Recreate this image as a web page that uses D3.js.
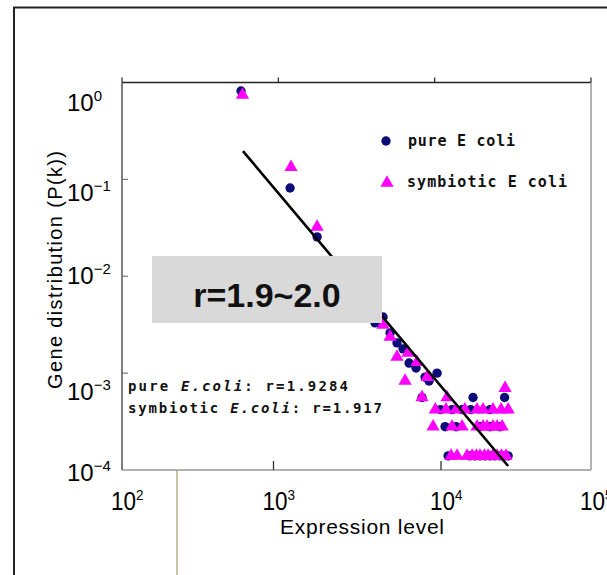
<!DOCTYPE html>
<html><head><meta charset="utf-8">
<script src="https://cdn.jsdelivr.net/npm/d3@7"></script>
<style>body{margin:0;background:#fff;} svg{display:block}</style>
</head><body>
<svg id="chart" width="607" height="575"></svg>
<script>
// ---------- data ----------
const xTickExps = [2, 3, 4, 5];
const yTickExps = [0, -1, -2, -3, -4];

const pureX = [577, 1189, 1770, 2480, 3097, 3590,
  4159, 4677, 5186, 5744, 6280, 6860, 7600, 8680, 9210, 10360,
  8300, 17600, 28000,
  10900, 12900, 14950, 17000, 22600,
  11660, 13710, 19500, 22620, 26200,
  12190, 16840, 18130, 19500, 21000, 22620, 24300, 26200, 28000, 29500];
const pureY = [0.817, 0.0815, 0.0255, 0.0103, 0.0064, 0.0047,
  3.30e-3, 3.80e-3, 2.60e-3, 2.05e-3, 1.78e-3, 1.27e-3, 1.13e-3, 9.1e-4, 8.3e-4, 1.0e-3,
  5.6e-4, 5.6e-4, 5.6e-4,
  4.2e-4, 4.2e-4, 4.2e-4, 4.2e-4, 4.2e-4,
  2.8e-4, 2.8e-4, 2.8e-4, 2.8e-4, 2.8e-4,
  1.4e-4, 1.4e-4, 1.4e-4, 1.4e-4, 1.4e-4, 1.4e-4, 1.4e-4, 1.4e-4, 1.4e-4, 1.4e-4];

const symX = [590, 1205, 1770, 2550, 3175, 3750,
  4677, 5186, 5744, 6761, 7710, 6470, 8940,
  28200,
  8300, 12000,
  10100, 11800, 13700, 15600, 18670, 20400, 23600, 26600, 29500,
  9770, 12920, 14970, 18670, 20400, 21640, 23600, 25070, 27000,
  12740, 13910, 16110, 17350, 18500, 19500, 20800, 21970, 23500, 25070, 26800, 28630];
const symY = [0.743, 0.134, 0.0323, 0.0122, 0.0072, 0.0051,
  3.14e-3, 2.36e-3, 1.47e-3, 1.62e-3, 1.30e-3, 8.3e-4, 9.1e-4,
  7.0e-4,
  5.6e-4, 5.6e-4,
  4.2e-4, 4.2e-4, 4.2e-4, 4.2e-4, 4.2e-4, 4.2e-4, 4.2e-4, 4.2e-4, 4.2e-4,
  2.8e-4, 2.8e-4, 2.8e-4, 2.8e-4, 2.8e-4, 2.8e-4, 2.8e-4, 2.8e-4, 2.8e-4,
  1.4e-4, 1.4e-4, 1.4e-4, 1.4e-4, 1.4e-4, 1.4e-4, 1.4e-4, 1.4e-4, 1.4e-4, 1.4e-4, 1.4e-4, 1.4e-4];

const fitX = [594, 29500];
const fitY = [0.196, 1.10e-4];

const legendLabels = ["pure E\u2009coli", "symbiotic E\u2009coli"];
const noteParts = [["pure ", "E.coli", ": r=1.9284"], ["symbiotic ", "E.coli", ": r=1.917"]];
const boxLabel = "r=1.9~2.0";
const xTitle = "Expression level";
const yTitle = "Gene distribution (P(k))";

// ---------- layout ----------
const svg = d3.select("#chart");
const L = 122, R = 591, T = 82.5, B = 470;
const x = d3.scaleLog().domain([1e2, 1e5]).range([L, R]);
const xBottom = d3.scaleLog().domain([1e2, 1e3, 1e4, 1e5]).range([L, 273.5, 441, R]);
const y = d3.scaleLog().domain([1e-4, 1]).range([B, T]);
const font = "'Liberation Sans', Arial, sans-serif";
const mono = "'DejaVu Sans Mono', 'Liberation Mono', monospace";

function fitWidth(sel, target) {
  const n = sel.node();
  const len = n.getComputedTextLength();
  const k = n.getNumberOfChars();
  if (k > 1) sel.attr("letter-spacing", (target - len) / (k - 1));
}

// outer frame
svg.append("rect").attr("x", 14).attr("y", 7.5).attr("width", 700).attr("height", 700)
  .attr("fill", "none").attr("stroke", "#222").attr("stroke-width", 2);
// olive line
svg.append("line").attr("x1", 177).attr("x2", 177).attr("y1", B).attr("y2", 575)
  .attr("stroke", "#b7b27e").attr("stroke-width", 1.5);

// plot frame
svg.append("line").attr("x1", L).attr("x2", R).attr("y1", T).attr("y2", T).attr("stroke", "#222").attr("stroke-width", 1.3);
svg.append("line").attr("x1", L).attr("x2", R).attr("y1", B).attr("y2", B).attr("stroke", "#999").attr("stroke-width", 1.5);
svg.append("line").attr("x1", R).attr("x2", R).attr("y1", T).attr("y2", B).attr("stroke", "#999").attr("stroke-width", 1.5);
svg.append("line").attr("x1", L).attr("x2", L).attr("y1", T).attr("y2", B).attr("stroke", "#555").attr("stroke-width", 1.5);

// top ticks (outward)
svg.append("g").selectAll("line").data(xTickExps).join("line")
  .attr("x1", d => x(Math.pow(10, d))).attr("x2", d => x(Math.pow(10, d)))
  .attr("y1", T).attr("y2", T - 5).attr("stroke", "#222").attr("stroke-width", 1.2);
// bottom ticks (inward)
svg.append("g").selectAll("line").data(xTickExps.slice(1, 3)).join("line")
  .attr("x1", d => xBottom(Math.pow(10, d))).attr("x2", d => xBottom(Math.pow(10, d)))
  .attr("y1", B).attr("y2", B - 9).attr("stroke", "#333").attr("stroke-width", 1.3);
// left ticks (inward)
svg.append("g").selectAll("line").data(yTickExps.slice(1, 4)).join("line")
  .attr("x1", L).attr("x2", L + 6)
  .attr("y1", d => y(Math.pow(10, d))).attr("y2", d => y(Math.pow(10, d)))
  .attr("stroke", "#777").attr("stroke-width", 1.2);

// y tick labels
const yLabelDy = [28, 22, 8, 27, 11];
const supStr = e => (e < 0 ? "\u2212" + (-e) : String(e));
yTickExps.forEach((e, i) => {
  const t = svg.append("text").attr("x", 67).attr("y", y(Math.pow(10, e)) + yLabelDy[i])
    .attr("font-family", font).attr("font-size", 24).attr("fill", "#000");
  t.append("tspan").text("10");
  t.append("tspan").attr("font-size", 15).attr("dy", -10).text(supStr(e));
});
// x tick labels
xTickExps.forEach(e => {
  const t = svg.append("text")
    .attr("transform", `translate(${xBottom(Math.pow(10, e)) - 11},510) scale(0.9,1)`)
    .attr("font-family", font).attr("font-size", 25).attr("fill", "#000");
  t.append("tspan").text("10");
  t.append("tspan").attr("font-size", 15).attr("dy", -10).text(String(e));
});

// titles
const xt = svg.append("text").attr("x", 280).attr("y", 534).attr("font-family", font)
  .attr("font-size", 21).attr("fill", "#000").text(xTitle);
fitWidth(xt, 164);
const yt = svg.append("text").attr("transform", "translate(62,389) rotate(-90)")
  .attr("font-family", font).attr("font-size", 20).attr("fill", "#000").text(yTitle);
fitWidth(yt, 238);

// points
const pure = pureX.map((v, i) => [v, pureY[i]]);
const sym = symX.map((v, i) => [v, symY[i]]);
svg.append("g").selectAll("circle").data(pure).join("circle")
  .attr("cx", d => x(d[0])).attr("cy", d => y(d[1])).attr("r", 4.7).attr("fill", "#0d0d78");
const tri = d3.symbol().type(d3.symbolTriangle).size(76);
svg.append("g").selectAll("path").data(sym).join("path")
  .attr("transform", d => `translate(${x(d[0])},${y(d[1])})`).attr("d", tri).attr("fill", "#ff00ff");

// fit line
svg.append("path").datum(fitX.map((v, i) => [v, fitY[i]]))
  .attr("d", d3.line().x(d => x(d[0])).y(d => y(d[1])))
  .attr("stroke", "#000").attr("stroke-width", 2.6).attr("fill", "none");

// gray box
svg.append("rect").attr("x", 152).attr("y", 256).attr("width", 230).attr("height", 67).attr("fill", "#d9d9d9");
svg.append("text").attr("x", 267).attr("y", 307).attr("text-anchor", "middle")
  .attr("font-family", font).attr("font-size", 34).attr("font-weight", "bold").attr("fill", "#111").text(boxLabel);

// legend
svg.append("circle").attr("cx", 386).attr("cy", 141).attr("r", 4.7).attr("fill", "#0d0d78");
svg.append("path").attr("transform", "translate(387,183)").attr("d", tri).attr("fill", "#ff00ff");
const lg1 = svg.append("text").attr("x", 408).attr("y", 146).attr("font-family", mono)
  .attr("font-size", 15).attr("font-weight", "bold").attr("fill", "#111").text(legendLabels[0]);
fitWidth(lg1, 107);
const lg2 = svg.append("text").attr("x", 407).attr("y", 187).attr("font-family", mono)
  .attr("font-size", 15).attr("font-weight", "bold").attr("fill", "#111").text(legendLabels[1]);
fitWidth(lg2, 160);

// notes
const noteW = [220, 254];
const noteY = [391, 413];
noteParts.forEach((p, i) => {
  const t = svg.append("text").attr("x", 128).attr("y", noteY[i]).attr("font-family", mono)
    .attr("font-size", 14).attr("font-weight", "bold").attr("fill", "#111");
  t.append("tspan").text(p[0]);
  t.append("tspan").attr("font-style", "italic").text(p[1]);
  t.append("tspan").text(p[2]);
  fitWidth(t, noteW[i]);
});
</script>
</body></html>
